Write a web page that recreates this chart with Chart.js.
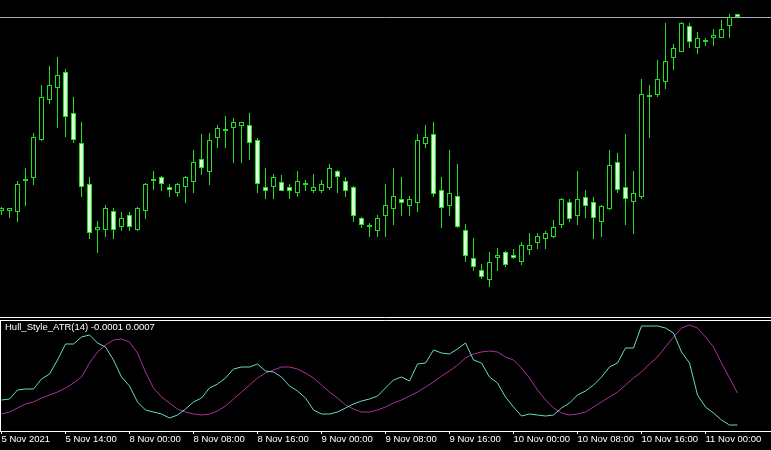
<!DOCTYPE html>
<html><head><meta charset="utf-8">
<script src="https://cdn.jsdelivr.net/npm/chart.js@4/dist/chart.umd.min.js"></script>
<style>
html,body{margin:0;padding:0;background:#000;overflow:hidden;}
#wrap{position:relative;width:771px;height:450px;background:#000;}
#main{position:absolute;left:0;top:0;}
#ind{position:absolute;left:0;top:318px;}
#indTitle{position:absolute;left:5px;top:321px;font:9.5px/12px "Liberation Sans",Arial,sans-serif;color:#fff;white-space:nowrap;}
</style></head>
<body>
<div id="wrap">
<canvas id="main" width="771" height="318"></canvas>
<canvas id="ind" width="771" height="132"></canvas>
<div id="indTitle"></div>
</div>
<script>
// Hourly candles (relative price units)
const open  = [106,106,105,136,139,177,217,229,245,204,174,133,87,87,106,90,102,87,106,136,140,130,124,130,135,158,145,179,186,189,191,192,177,130,130,135,130,124,132,126,126,129,146,136,130,99,90,86,101,108,118,111,114,173,183,127,111,121,87,59,47,37,59,65,62,55,67,74,78,80,92,115,101,120,115,95,108,155,130,115,120,220,222,235,259,265,291,269,275,279,279,291,303];
const high  = [110,109,136,149,184,232,251,260,248,220,195,140,96,112,109,105,105,110,134,146,141,133,134,141,167,183,184,192,201,199,195,204,179,149,143,142,133,146,137,143,137,153,147,140,131,100,94,102,133,149,140,121,183,192,195,140,167,153,93,79,53,65,69,66,68,75,84,84,86,97,119,118,146,127,120,112,167,164,183,146,238,232,257,294,273,295,294,285,279,288,297,303,303];
const low   = [102,99,95,111,132,176,213,189,180,174,120,78,64,80,78,86,86,86,98,127,126,120,120,114,124,142,132,169,169,154,154,157,124,118,118,126,118,120,126,124,124,127,124,120,95,89,80,80,80,92,101,101,105,169,120,89,101,89,55,46,38,30,46,50,58,52,62,68,68,79,89,95,92,99,78,80,107,124,92,83,118,179,220,228,247,265,269,263,271,271,279,279,300];
const close = [109,109,133,136,180,220,232,242,200,177,130,84,90,109,87,99,90,109,133,136,133,127,133,140,155,149,177,189,186,195,195,174,133,126,140,126,126,136,132,130,133,149,140,126,101,92,90,99,112,121,114,118,177,180,123,109,124,90,61,50,40,55,62,52,59,72,72,81,84,90,118,98,118,111,99,111,152,127,118,124,223,220,238,256,269,294,275,279,275,282,288,300,300];

// Hull_Style_ATR(14) pane: two buffers (relative units)
const atrFast = [31,32,41,42,42,52,57,71,87,87,94,96,88,84,71,54,45,29,21,19,17,13,16,22,29,33,43,47,53,62,64,64,67,60,59,54,45,40,33,21,17,17,19,23,27,30,32,35,43,51,54,50,67,68,81,78,77,82,88,71,68,54,48,34,24,15,17,16,15,16,23,28,36,40,46,54,64,68,83,83,105,105,105,103,98,79,68,36,24,18,11,6,6];
const atrSlow = [17,19,23,27,29,33,36,39,43,48,54,68,79,86,91,92,89,78,59,43,34,28,22,19,17,16,17,20,25,32,39,46,53,58,61,64,64,62,58,53,46,39,33,26,22,19,19,21,24,28,31,35,39,44,49,55,60,66,73,77,79,80,79,74,71,63,53,41,31,23,18,16,17,19,24,29,34,39,46,53,59,67,74,84,94,103,106,103,94,84,68,53,38];

const tickBars   = [0,8,16,24,32,40,48,56,64,72,80,88];
const tickLabels = ['5 Nov 2021','5 Nov 14:00','8 Nov 00:00','8 Nov 08:00','8 Nov 16:00','9 Nov 00:00','9 Nov 08:00','9 Nov 16:00','10 Nov 00:00','10 Nov 08:00','10 Nov 16:00','11 Nov 00:00'];
const indicatorName = 'Hull_Style_ATR(14)';
const indicatorValues = ['-0.0001','0.0007'];

// ---- styling / layout ----
const XMIN = -0.1875, XMAX = 96.1875;
const LINE = '#22dd22', BEAR_FILL = '#dcffdc', BULL_FILL = '#000000';
const FRAME = '#ffffff';
Chart.defaults.font.family = '"Liberation Sans", Arial, sans-serif';

document.getElementById('indTitle').textContent = indicatorName + ' ' + indicatorValues.join(' ');

const framePlugin = {
  id: 'frame',
  afterDraw(chart, args, opts) {
    const {ctx, chartArea: a} = chart;
    ctx.save();
    ctx.strokeStyle = opts.color || FRAME;
    ctx.lineWidth = 1;
    ctx.beginPath();
    (opts.sides || []).forEach(s => {
      if (s === 'left')   { ctx.moveTo(a.left + 0.5, a.top - 1); ctx.lineTo(a.left + 0.5, a.bottom + 1); }
      if (s === 'bottom') { ctx.moveTo(a.left, a.bottom + 0.5); ctx.lineTo(a.right, a.bottom + 0.5); }
      if (s === 'top')    { ctx.moveTo(a.left, a.top - 0.5); ctx.lineTo(a.right, a.top - 0.5); }
    });
    ctx.stroke();
    ctx.restore();
  }
};

const bidLinePlugin = {
  id: 'bidLine',
  beforeDatasetsDraw(chart, args, opts) {
    const {ctx, chartArea: a, scales: {y}} = chart;
    const py = Math.round(y.getPixelForValue(close[close.length - 1])) + 0.5;
    ctx.save();
    ctx.strokeStyle = opts.color;
    ctx.lineWidth = 1;
    ctx.beginPath();
    ctx.moveTo(a.left, py); ctx.lineTo(a.right, py);
    ctx.stroke();
    ctx.restore();
  }
};

const bars = open.map((o, i) => i);

new Chart(document.getElementById('main'), {
  type: 'bar',
  data: {
    datasets: [
      {
        label: 'body',
        data: bars.map(i => ({x: i, y: [open[i], close[i]]})),
        backgroundColor: c => (close[c.dataIndex] < open[c.dataIndex] ? BEAR_FILL : BULL_FILL),
        borderColor: LINE,
        borderWidth: 1,
        borderSkipped: false,
        barThickness: 5,
        minBarLength: 2,
        inflateAmount: 0,
        grouped: false,
        order: 0
      },
      {
        label: 'wick',
        data: bars.map(i => ({x: i, y: [low[i], high[i]]})),
        backgroundColor: LINE,
        borderWidth: 0,
        barThickness: 1,
        inflateAmount: 0,
        grouped: false,
        order: 1
      }
    ]
  },
  options: {
    responsive: false, animation: false, devicePixelRatio: 1, events: [],
    layout: {padding: {left: 0, right: 0, top: 0, bottom: 1}},
    plugins: {legend: {display: false}, tooltip: {enabled: false},
      frame: {sides: ['bottom'], color: FRAME},
      bidLine: {color: '#a8a8b0'}},
    scales: {
      x: {type: 'linear', min: XMIN, max: XMAX, offset: false, display: false, grid: {offset: false}},
      y: {type: 'linear', min: 0, max: 317, display: false}
    }
  },
  plugins: [framePlugin, bidLinePlugin]
});

new Chart(document.getElementById('ind'), {
  type: 'line',
  data: {
    datasets: [
      {label: 'fast', data: bars.map(i => ({x: i, y: atrFast[i]})), borderColor: '#66d9c8', borderWidth: 1, pointRadius: 0, tension: 0, fill: false},
      {label: 'slow', data: bars.map(i => ({x: i, y: atrSlow[i]})), borderColor: '#a8329c', borderWidth: 1, pointRadius: 0, tension: 0, fill: false}
    ]
  },
  options: {
    responsive: false, animation: false, devicePixelRatio: 1, events: [],
    layout: {padding: {left: 0, right: 0, top: 3, bottom: 0}},
    plugins: {legend: {display: false}, tooltip: {enabled: false},
      frame: {sides: ['left', 'top'], color: FRAME}},
    scales: {
      x: {
        type: 'linear', min: XMIN, max: XMAX, offset: false,
        afterBuildTicks: s => { s.ticks = tickBars.map(v => ({value: v})); },
        afterFit: s => { s.height = 19; },
        ticks: {autoSkip: false, maxRotation: 0, minRotation: 0, align: 'start', padding: 0,
          color: '#ffffff', font: {size: 9.5},
          callback: (v, i) => tickLabels[i]},
        grid: {drawOnChartArea: false, drawTicks: true, tickLength: 3, color: '#ffffff', offset: false},
        border: {display: true, color: '#ffffff', width: 1}
      },
      y: {type: 'linear', min: 0, max: 110, display: false}
    }
  },
  plugins: [framePlugin]
});
</script>
</body></html>
